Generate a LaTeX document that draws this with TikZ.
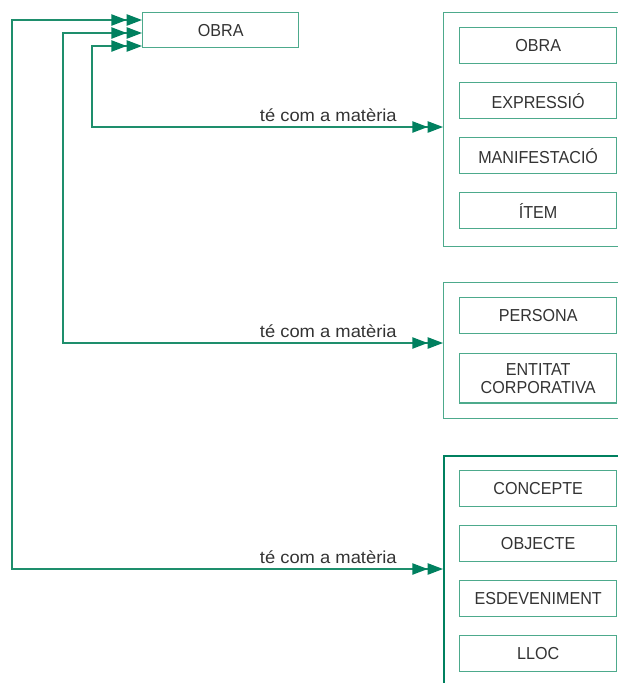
\documentclass[tikz,border=0pt]{standalone}
\usepackage{fontspec}
\setmainfont{Liberation Sans}
\newfontfamily\boxfont[FakeStretch=0.93]{Liberation Sans}
\newfontfamily\lblfont[FakeStretch=1.06]{Liberation Sans}
\usetikzlibrary{arrows.meta}
\definecolor{dkgreen}{HTML}{00805F}
\definecolor{lngreen}{HTML}{1E8E6C}
\definecolor{ltgreen}{HTML}{4DAA8C}
\definecolor{txt}{HTML}{333333}
\tikzset{
  dh/.tip={Triangle[length=11.5pt,width=8.5pt,color=dkgreen]Triangle[length=11.5pt,width=8.5pt,color=dkgreen]},
  entity/.style={draw=ltgreen, line width=1pt, minimum width=117.75pt, minimum height=27pt,
    inner sep=0pt, anchor=north west, font=\boxfont\fontsize{13}{13.5}\selectfont,
    text=txt, align=center},
  group/.style={draw=ltgreen, line width=1pt, anchor=north west, inner sep=0pt,
    minimum width=192pt},
  link/.style={draw=lngreen, line width=1pt, dh-dh},
  lbl/.style={font=\lblfont\fontsize{13}{15}\selectfont, text=txt, anchor=base east, inner sep=0pt}
}
\begin{document}
\begin{tikzpicture}[x=0.75pt,y=-0.75pt]
\useasboundingbox (0,0) rectangle (618,683);
\clip (0,0) rectangle (618,683);

% source entity
\node[entity, minimum width=117pt, minimum height=26.25pt] (obra0) at (142,12) {OBRA};

% groups
\node[group, minimum height=175.5pt] (c1) at (443,12) {};
\node[group, minimum height=102pt] (c2) at (443,282) {};
\node[group, draw=dkgreen, line width=1.5pt, minimum height=199pt] (c3) at (443,455) {};

% group 1 members
\node[entity] (e11) at (459,27)  {OBRA};
\node[entity] (e12) at (459,82)  {EXPRESSIÓ};
\node[entity] (e13) at (459,137) {MANIFESTACIÓ};
\node[entity] (e14) at (459,192) {ÍTEM};

% group 2 members
\node[entity] (e21) at (459,297) {PERSONA};
\node[entity, minimum height=37pt] (e22) at (459,353) {ENTITAT\\CORPORATIVA};

% group 3 members
\node[entity] (e31) at (459,470) {CONCEPTE};
\node[entity] (e32) at (459,525) {OBJECTE};
\node[entity] (e33) at (459,580) {ESDEVENIMENT};
\node[entity] (e34) at (459,635) {LLOC};

% bend points
\coordinate (b1) at (92,127);
\coordinate (b2) at (63,343);
\coordinate (b3) at (12,569);

% connectors
\draw[link] (obra0.west |- 0,46) -| (b1) -- (c1.west |- b1);
\draw[link] (obra0.west |- 0,33) -| (b2) -- (c2.west |- b2);
\draw[link] (obra0.west |- 0,20) -| (b3) -- (c3.west |- b3);

% labels
\node[lbl] (l1) at (397,121) {té com a matèria};
\node[lbl] (l2) at (397,337) {té com a matèria};
\node[lbl] (l3) at (397,563) {té com a matèria};
\end{tikzpicture}
\end{document}
